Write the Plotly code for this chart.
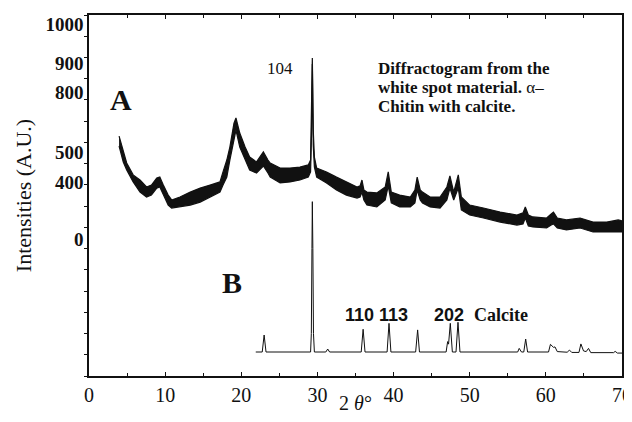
import plotly.graph_objects as go

# Curve A (alpha-chitin + calcite), noisy band read as upper/lower envelopes
A_x = [3.95, 4.5, 4.95, 5.8, 6.7, 7.56, 8.2, 8.9, 9.3, 9.76, 10.4, 10.85, 11.95, 13.3, 14.6,
       15.9, 17.2, 17.6, 18.1, 18.5, 19.04, 19.3, 19.8, 20.5, 21.1, 22.0, 22.6, 22.9, 23.5,
       23.8, 25.1, 26.4, 27.7, 28.8, 29.1, 29.22, 29.33, 29.45, 29.6, 29.9, 31.2, 32.5, 33.8,
       35.2, 35.6, 35.85, 36.1, 36.5, 37.8, 38.9, 39.3, 39.7, 40.8, 42.2, 42.8, 43.1, 43.5,
       43.8, 44.8, 46.1, 47.0, 47.4, 47.9, 48.5, 48.9, 50.0, 51.8, 54.0, 56.2, 57.0, 57.3,
       57.7, 58.3, 60.1, 60.7, 61.0, 61.5, 62.7, 64.5, 66.2, 68.0, 69.5, 70.0]
A_hi = [1130, 1064, 1003, 947, 923, 890, 899, 932, 937, 899, 852, 829, 843, 866, 885,
        899, 914, 961, 1017, 1078, 1191, 1215, 1144, 1078, 1031, 1008, 1041, 1055, 1017,
        1003, 979, 979, 984, 994, 1017, 1205, 1497, 1158, 1031, 979, 961, 937, 914,
        890, 895, 923, 876, 866, 862, 890, 961, 866, 852, 843, 876, 937, 876,
        866, 843, 843, 890, 942, 866, 947, 843, 805, 791, 772, 758, 768, 796,
        758, 749, 744, 763, 772, 744, 735, 744, 725, 725, 735, 730]
A_lo = [1083, 1008, 970, 914, 866, 843, 852, 885, 890, 852, 805, 791, 796, 805, 819,
        843, 866, 899, 937, 1017, 1125, 1158, 1078, 1017, 970, 956, 979, 989, 956,
        937, 909, 914, 923, 937, 961, 1135, 1469, 1088, 984, 937, 909, 876, 852,
        838, 843, 866, 829, 805, 796, 829, 895, 815, 796, 796, 815, 876, 829,
        815, 796, 791, 829, 885, 829, 885, 782, 758, 744, 725, 711, 716, 744,
        706, 702, 697, 711, 716, 697, 688, 697, 678, 678, 678, 678]

# Curve B (calcite reference pattern)
B_x = [21.9, 22.75, 23.0, 23.25, 29.1, 29.2, 29.28, 29.33, 29.4, 29.48, 29.6, 31.1, 31.35, 31.6,
       35.75, 36.0, 36.25, 39.15, 39.4, 39.65, 42.9, 43.16, 43.4, 46.9, 47.1, 47.22, 47.45,
       47.72, 48.2, 48.46, 48.72, 56.3, 56.5, 56.8, 57.1, 57.35, 57.6, 60.35, 60.6, 61.0,
       61.2, 61.5, 62.8, 63.1, 63.4, 64.35, 64.6, 64.95, 65.3, 65.6, 65.9, 68.9, 69.1, 69.4, 70.0]
B_y = [113, 113, 193, 113, 113, 200, 600, 821, 600, 200, 113, 113, 127, 113,
       113, 220, 113, 113, 248, 113, 113, 217, 113, 113, 162, 150, 248,
       113, 113, 253, 113, 113, 130, 113, 113, 174, 113, 113, 149, 135,
       137, 115, 112, 122, 111, 111, 151, 118, 115, 130, 110, 110, 116, 108, 108]

# Axis tick labels (placed where the figure prints them)
y_label_vals = [1655, 1470, 1335, 1055, 910, 645]
y_label_text = ["1000", "900", "800", "500", "400", "0"]
x_ticks = [0, 10, 20, 30, 40, 50, 60, 70]

serif = "Liberation Serif, Times New Roman, serif"
sans = "Liberation Sans, Arial, sans-serif"

fig = go.Figure()
fig.add_trace(go.Scatter(x=A_x, y=A_lo, mode="lines", line=dict(color="#111", width=1.2),
                         hoverinfo="skip", showlegend=False))
fig.add_trace(go.Scatter(x=A_x, y=A_hi, mode="lines", line=dict(color="#111", width=1.2),
                         fill="tonexty", fillcolor="#111", hoverinfo="skip", showlegend=False))
fig.add_trace(go.Scatter(x=B_x, y=B_y, mode="lines", line=dict(color="#111", width=1),
                         showlegend=False))

ann = []
def txt(x, y, s, size, font=serif, xanchor="center", bold=False):
    ann.append(dict(x=x, y=y, xref="x", yref="y", text=s, showarrow=False,
                    xanchor=xanchor, yanchor="middle",
                    font=dict(family=font, size=size, color="#111",
                              weight="bold" if bold else "normal")))

txt(4.2, 1300, "A", 30, bold=True)
txt(18.8, 438, "B", 30, bold=True)
txt(25.1, 1446, "104", 17)
txt(37.7, 1449, "<b>Diffractogram from the</b>", 17, xanchor="left")
txt(37.7, 1359, "<b>white spot material.</b> α–", 17, xanchor="left")
txt(37.7, 1271, "<b>Chitin with calcite.</b>", 17, xanchor="left")
txt(37.7, 287, "110 113", 18, font=sans, bold=True)
txt(47.3, 287, "202", 18, font=sans, bold=True)
txt(54.1, 287, "Calcite", 18, bold=True)

# page body has an 8px margin, so the figure is sized to fit inside the window
fig.update_layout(
    width=624, height=406,
    margin=dict(l=81, r=10, t=7, b=38),
    plot_bgcolor="white", paper_bgcolor="white",
    annotations=ann,
    xaxis=dict(range=[0, 70], tickvals=x_ticks, ticks="inside", ticklen=4,
               tickcolor="#111", showline=True, linecolor="#111", linewidth=1.5,
               mirror="ticks", showgrid=False, zeroline=False, automargin=False,
               ticklabeloverflow="allow",
               tickfont=dict(family=serif, size=20, color="#111"),
               minor=dict(tickmode="linear", tick0=0, dtick=5, ticks="inside",
                          ticklen=3, tickcolor="#111", showgrid=False),
               title=dict(text="2 <i>θ</i>°", font=dict(family=serif, size=20, color="#111"),
                          standoff=4)),
    yaxis=dict(range=[0, 1700], tickmode="array", tickvals=y_label_vals, ticktext=y_label_text,
               ticks="outside", ticklen=0, showline=True, linecolor="#111", linewidth=1.5,
               mirror="ticks", showgrid=False, zeroline=False, automargin=False,
               tickfont=dict(family=serif, size=19, color="#111", weight="bold"),
               minor=dict(tickmode="linear", tick0=0, dtick=100, ticks="outside",
                          ticklen=3, tickcolor="#111", showgrid=False),
               title=dict(text="Intensities (A.U.)", font=dict(family=serif, size=22, color="#111"),
                          standoff=8)),
)

fig.write_html("out.html")
